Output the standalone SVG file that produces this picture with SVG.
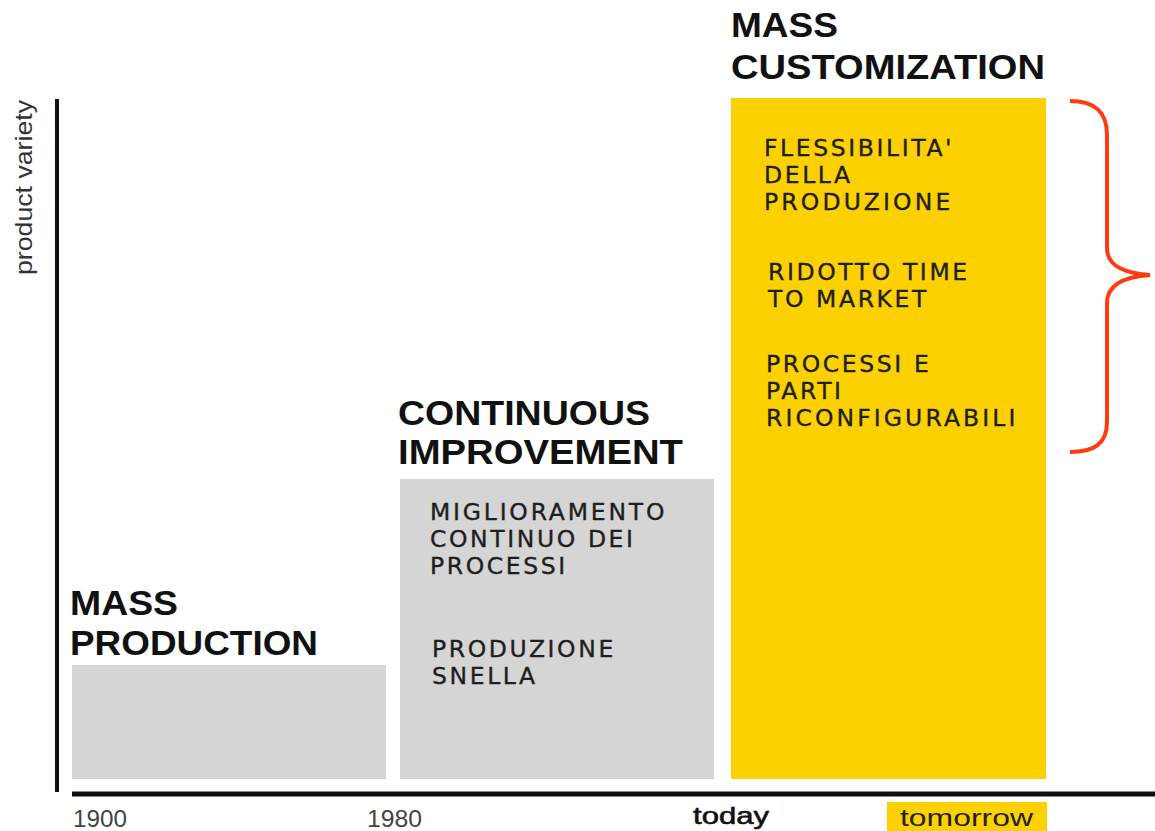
<svg xmlns="http://www.w3.org/2000/svg" width="1155" height="831" viewBox="0 0 1155 831">
<style>
.title{font-family:"Liberation Sans",Arial,sans-serif;font-weight:bold;font-size:35px;fill:#111;}
.body{font-family:"DejaVu Sans",Verdana,sans-serif;font-size:23.5px;fill:#1e1e1e;stroke:#1e1e1e;stroke-width:0.35px;letter-spacing:2.6px;}
.axis{font-family:"Liberation Sans",Arial,sans-serif;font-size:24px;}
.gray{fill:#d5d5d5;}
.yel{fill:#fdd100;}
</style>
<rect width="1155" height="831" fill="#ffffff"/>
<g id="axes">
<line x1="57" y1="99" x2="57" y2="792" stroke="#111" stroke-width="4"/>
<line x1="72" y1="794" x2="1155" y2="794" stroke="#111" stroke-width="5"/>
<text class="axis" transform="translate(32,275) rotate(-90)" x="0" y="0" textLength="175" lengthAdjust="spacingAndGlyphs" fill="#333" font-size="21">product variety</text>
<text class="axis" x="73" y="827" textLength="54" lengthAdjust="spacingAndGlyphs" fill="#444">1900</text>
<text class="axis" x="367" y="827" textLength="55" lengthAdjust="spacingAndGlyphs" fill="#444">1980</text>
<text class="axis" x="693" y="824" textLength="76" lengthAdjust="spacingAndGlyphs" fill="#111" stroke="#111" stroke-width="0.6">today</text>
<rect x="887" y="802" width="160" height="29" class="yel"/>
<text class="axis" x="900" y="826" textLength="133" lengthAdjust="spacingAndGlyphs" fill="#222" font-size="25">tomorrow</text>
</g>
<g id="mass-production">
<text class="title" x="70" y="615" textLength="108" lengthAdjust="spacingAndGlyphs">MASS</text>
<text class="title" x="70" y="655" textLength="248" lengthAdjust="spacingAndGlyphs">PRODUCTION</text>
<rect x="72" y="665" width="314" height="114" class="gray"/>
</g>
<g id="continuous-improvement">
<text class="title" x="398" y="425" textLength="252" lengthAdjust="spacingAndGlyphs">CONTINUOUS</text>
<text class="title" x="398" y="464" textLength="285" lengthAdjust="spacingAndGlyphs">IMPROVEMENT</text>
<rect x="400" y="479" width="314" height="300" class="gray"/>
<text class="body" x="430" y="520" textLength="237" lengthAdjust="spacing">MIGLIORAMENTO</text>
<text class="body" x="430" y="547">CONTINUO DEI</text>
<text class="body" x="430" y="574">PROCESSI</text>
<text class="body" x="432" y="657">PRODUZIONE</text>
<text class="body" x="432" y="684">SNELLA</text>
</g>
<g id="mass-customization">
<text class="title" x="731" y="37" textLength="107" lengthAdjust="spacingAndGlyphs">MASS</text>
<text class="title" x="731" y="79" textLength="314" lengthAdjust="spacingAndGlyphs">CUSTOMIZATION</text>
<rect x="731" y="98" width="315" height="681" class="yel"/>
<text class="body" x="764" y="156">FLESSIBILITA'</text>
<text class="body" x="764" y="183">DELLA</text>
<text class="body" x="764" y="210" textLength="189" lengthAdjust="spacing">PRODUZIONE</text>
<text class="body" x="768" y="280">RIDOTTO TIME</text>
<text class="body" x="768" y="307">TO MARKET</text>
<text class="body" x="766" y="372">PROCESSI E</text>
<text class="body" x="766" y="399">PARTI</text>
<text class="body" x="766" y="426" textLength="252" lengthAdjust="spacing">RICONFIGURABILI</text>
</g>
<g id="connectors">
<path d="M1070,101 C1095,101 1107,112 1107,135 L1107,248 C1107,264 1120,273 1150,275 C1120,277 1107,287 1107,303 L1107,422 C1107,443 1095,452 1070,452" fill="none" stroke="#ff3a10" stroke-width="4"/>
</g>
</svg>
